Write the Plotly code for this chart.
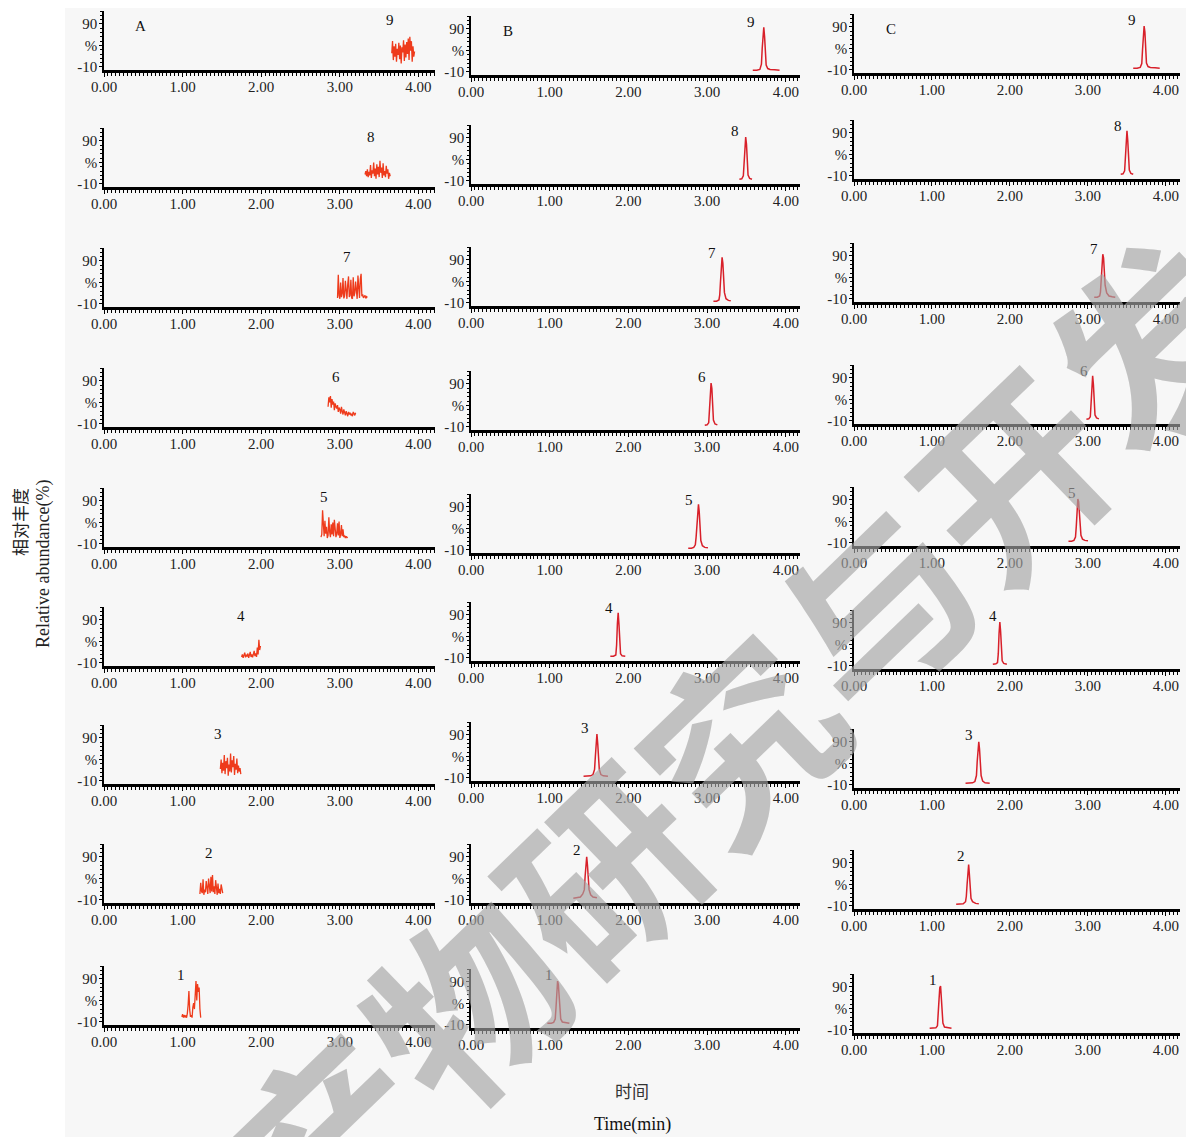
import plotly.graph_objects as go
from plotly.subplots import make_subplots

# ---------------- data ----------------
# Column A : blank / matrix (noisy traces)
A9_x = [3.66,3.67,3.68,3.69,3.70,3.71,3.72,3.73,3.74,3.75,3.76,3.77,3.78,3.79,3.80,3.81,3.82,3.83,3.84,3.85,3.86,3.87,3.88,3.89,3.90,3.91,3.92,3.93,3.94,3.95]
A9_y = [22,50,6,38,14,44,2,32,18,46,8,40,-2,36,24,52,4,42,12,48,20,56,6,60,28,50,2,38,14,26]
A8_x = [3.32,3.33,3.34,3.35,3.36,3.37,3.38,3.39,3.40,3.41,3.42,3.43,3.44,3.45,3.46,3.47,3.48,3.49,3.50,3.51,3.52,3.53,3.54,3.55,3.56,3.57,3.58,3.59,3.60,3.61,3.62,3.63,3.64]
A8_y = [12,20,8,24,6,18,10,34,4,22,14,40,8,26,2,36,12,30,6,44,16,28,4,38,10,20,6,32,14,24,2,16,8]
A7_x = [2.97,2.98,2.99,3.00,3.01,3.02,3.03,3.04,3.05,3.06,3.07,3.08,3.09,3.10,3.11,3.12,3.13,3.14,3.15,3.16,3.17,3.18,3.19,3.20,3.21,3.22,3.23,3.24,3.25,3.26,3.27,3.28,3.29,3.30,3.31,3.32,3.33,3.34,3.35]
A7_y = [4,58,10,2,40,6,14,50,3,8,44,12,2,36,54,6,10,46,4,2,52,8,16,42,6,2,56,10,4,48,60,8,12,4,6,10,3,7,5]
A6_x = [2.85,2.86,2.87,2.88,2.89,2.90,2.91,2.92,2.93,2.94,2.95,2.96,2.97,2.98,2.99,3.00,3.01,3.02,3.03,3.04,3.05,3.06,3.07,3.08,3.09,3.10,3.11,3.12,3.13,3.14,3.15,3.16,3.17,3.18,3.19,3.20]
A6_y = [30,52,40,55,28,48,35,42,22,38,30,26,34,18,28,24,14,30,20,12,24,16,10,20,14,8,18,12,16,10,14,8,18,12,10,16]
A5_x = [2.76,2.77,2.78,2.79,2.80,2.81,2.82,2.83,2.84,2.85,2.86,2.87,2.88,2.89,2.90,2.91,2.92,2.93,2.94,2.95,2.96,2.97,2.98,2.99,3.00,3.01,3.02,3.03,3.04,3.05,3.06,3.07,3.08,3.09,3.10]
A5_y = [6,12,68,20,8,44,14,30,4,10,52,18,6,36,12,40,8,46,22,6,14,38,10,42,4,12,34,8,24,6,10,4,8,5,6]
A4_x = [1.75,1.76,1.77,1.78,1.79,1.80,1.81,1.82,1.83,1.84,1.85,1.86,1.87,1.88,1.89,1.90,1.91,1.92,1.93,1.94,1.95,1.96,1.97,1.98,1.99]
A4_y = [4,10,2,8,14,3,9,5,12,2,7,16,4,10,3,8,18,6,12,4,26,10,44,20,30]
A3_x = [1.48,1.49,1.50,1.51,1.52,1.53,1.54,1.55,1.56,1.57,1.58,1.59,1.60,1.61,1.62,1.63,1.64,1.65,1.66,1.67,1.68,1.69,1.70,1.71,1.72,1.73,1.74]
A3_y = [18,40,8,32,14,50,6,36,20,44,2,28,12,54,10,38,22,48,4,30,16,42,8,26,12,20,6]
A2_x = [1.22,1.23,1.24,1.25,1.26,1.27,1.28,1.29,1.30,1.31,1.32,1.33,1.34,1.35,1.36,1.37,1.38,1.39,1.40,1.41,1.42,1.43,1.44,1.45,1.46,1.47,1.48,1.49,1.50,1.51]
A2_y = [4,30,10,6,38,2,14,8,34,12,4,40,16,6,44,10,48,8,22,4,36,12,2,28,6,16,4,26,8,6]
A1_x = [0.99,1.00,1.01,1.02,1.03,1.04,1.05,1.06,1.07,1.08,1.09,1.10,1.11,1.12,1.13,1.14,1.15,1.16,1.17,1.18,1.19,1.20,1.21,1.22,1.23]
A1_y = [2,8,0,6,2,4,0,10,30,62,18,2,6,0,24,34,20,72,85,40,78,60,70,20,0]

# Column B
B9_x = [3.58,3.63,3.67,3.69,3.70,3.71,3.72,3.73,3.74,3.75,3.77,3.80,3.86,3.92]
B9_y = [-6,-6,-4,8,45,82,94,72,30,6,-2,-4,-5,-6]
B8_x = [3.41,3.44,3.46,3.47,3.48,3.49,3.50,3.51,3.52,3.54,3.57]
B8_y = [-6,-5,2,28,72,92,76,30,4,-4,-6]
B7_x = [3.08,3.12,3.15,3.16,3.17,3.18,3.19,3.20,3.21,3.22,3.24,3.27,3.30]
B7_y = [-6,-6,-3,8,40,78,96,82,45,14,0,-4,-5]
B6_x = [2.97,3.00,3.02,3.03,3.04,3.05,3.06,3.07,3.08,3.10,3.13]
B6_y = [-6,-5,0,25,70,92,80,35,6,-3,-5]
B5_x = [2.76,2.80,2.83,2.85,2.86,2.87,2.88,2.89,2.90,2.91,2.92,2.94,2.97,3.01]
B5_y = [-6,-6,-4,2,20,55,85,96,78,40,12,0,-4,-5]
B4_x = [1.77,1.81,1.84,1.85,1.86,1.87,1.88,1.89,1.90,1.92,1.96]
B4_y = [-6,-6,-3,20,70,95,68,20,0,-5,-6]
B3_x = [1.43,1.48,1.52,1.55,1.57,1.58,1.59,1.60,1.61,1.62,1.63,1.65,1.68,1.74]
B3_y = [-6,-6,-5,-2,10,40,78,92,70,35,10,-2,-5,-6]
B2_x = [1.30,1.35,1.39,1.42,1.44,1.45,1.46,1.47,1.48,1.49,1.50,1.52,1.55,1.60]
B2_y = [-6,-5,-3,4,14,45,78,90,70,32,14,2,-3,-5]
B1_x = [0.97,1.02,1.05,1.07,1.08,1.09,1.10,1.11,1.12,1.13,1.14,1.16,1.20,1.25]
B1_y = [-6,-6,-4,4,30,68,92,84,52,20,4,-3,-5,-6]

# Column C
C9_x = [3.58,3.63,3.67,3.69,3.70,3.71,3.72,3.73,3.74,3.75,3.77,3.80,3.86,3.92]
C9_y = [-6,-6,-4,5,38,80,92,78,34,6,-2,-4,-5,-6]
C8_x = [3.42,3.45,3.47,3.48,3.49,3.50,3.51,3.52,3.53,3.55,3.58]
C8_y = [-6,-5,2,30,75,95,72,26,4,-4,-6]
C7_x = [3.08,3.12,3.15,3.16,3.17,3.18,3.19,3.20,3.21,3.22,3.24,3.27,3.31,3.35]
C7_y = [-6,-6,-3,6,35,72,94,85,55,22,4,-3,-5,-6]
C6_x = [2.98,3.01,3.03,3.04,3.05,3.06,3.07,3.08,3.09,3.11,3.14]
C6_y = [-6,-5,0,30,78,95,74,30,4,-3,-5]
C5_x = [2.75,2.79,2.82,2.84,2.85,2.86,2.87,2.88,2.89,2.90,2.91,2.93,2.96,3.00]
C5_y = [-6,-6,-4,4,28,64,92,86,55,24,8,-1,-4,-5]
C4_x = [1.78,1.82,1.84,1.85,1.86,1.87,1.88,1.89,1.90,1.92,1.96]
C4_y = [-6,-5,-2,18,66,92,70,24,2,-4,-6]
C3_x = [1.43,1.48,1.52,1.55,1.57,1.58,1.59,1.60,1.61,1.62,1.63,1.65,1.68,1.74]
C3_y = [-6,-6,-5,-2,12,45,80,90,72,38,12,-1,-5,-6]
C2_x = [1.31,1.36,1.40,1.43,1.44,1.45,1.46,1.47,1.48,1.49,1.50,1.52,1.56,1.60]
C2_y = [-6,-6,-5,0,12,40,74,86,62,28,8,0,-4,-5]
C1_x = [0.97,1.02,1.05,1.07,1.08,1.09,1.10,1.11,1.12,1.13,1.14,1.16,1.20,1.25]
C1_y = [-6,-6,-5,0,22,60,88,92,64,26,6,-3,-5,-6]

# peak-number label positions (x in min), compounds 1..9
A_label_x = [0.98,1.34,1.45,1.74,2.80,2.95,3.09,3.40,3.64]
B_label_x = [0.99,1.35,1.45,1.75,2.77,2.93,3.06,3.35,3.56]
C_label_x = [1.01,1.37,1.47,1.78,2.79,2.95,3.08,3.38,3.56]
label_y = [100, 105, 105]

panel_letters = ["A", "B", "C"]
x_tick_vals = [0, 1, 2, 3, 4]
x_tick_text = ["0.00", "1.00", "2.00", "3.00", "4.00"]
y_tick_vals = [-10, 40, 90]
y_tick_text = ["-10", "%", "90"]
ylabel_cn = "相对丰度"
ylabel_en = "Relative abundance(%)"
xlabel_cn = "时间"
xlabel_en = "Time(min)"
watermark = "天然产物研究与开发"

series = [
    [(A1_x, A1_y), (A2_x, A2_y), (A3_x, A3_y), (A4_x, A4_y), (A5_x, A5_y),
     (A6_x, A6_y), (A7_x, A7_y), (A8_x, A8_y), (A9_x, A9_y)],
    [(B1_x, B1_y), (B2_x, B2_y), (B3_x, B3_y), (B4_x, B4_y), (B5_x, B5_y),
     (B6_x, B6_y), (B7_x, B7_y), (B8_x, B8_y), (B9_x, B9_y)],
    [(C1_x, C1_y), (C2_x, C2_y), (C3_x, C3_y), (C4_x, C4_y), (C5_x, C5_y),
     (C6_x, C6_y), (C7_x, C7_y), (C8_x, C8_y), (C9_x, C9_y)],
]
label_xs = [A_label_x, B_label_x, C_label_x]

# ---------------- layout geometry ----------------
# the page body adds an 8px margin, so the figure is drawn 8px smaller and
# all target window-pixel positions are shifted by that offset
W, H = 1194, 1137
OFF = 8
FW, FH = W - OFF, H - OFF


def px(xp):
    return (xp - OFF) / FW


def py(yp):
    return 1 - (yp - OFF) / FH


col_px = [(104, 435, 4.21), (471, 800, 4.18), (854, 1180, 4.18)]
axis_px = [
    [70, 187, 307, 427, 547, 666, 784, 903, 1025],
    [75, 184, 306, 430, 553, 661, 781, 903, 1028],
    [73, 179, 302, 424, 546, 669, 788, 909, 1033],
]
panel_h = 59
line_colors = ["#ee3b1c", "#d8202a", "#d8202a"]
line_widths = [1.3, 1.5, 1.5]
SERIF = "Liberation Serif"

fig = make_subplots(rows=9, cols=3)
annotations = []

for c in range(3):
    x0, x1, xmax = col_px[c]
    for r in range(9):
        comp = 9 - r
        xs, ys = series[c][comp - 1]
        fig.add_trace(go.Scatter(x=xs, y=ys, mode="lines",
                                 line=dict(color=line_colors[c], width=line_widths[c]),
                                 hoverinfo="skip", showlegend=False),
                      row=r + 1, col=c + 1)
        idx = r * 3 + c + 1
        xa = "xaxis" if idx == 1 else f"xaxis{idx}"
        ya = "yaxis" if idx == 1 else f"yaxis{idx}"
        xref = "x" if idx == 1 else f"x{idx}"
        yref = "y" if idx == 1 else f"y{idx}"
        yb = axis_px[c][r]
        fig.layout[xa].update(
            domain=[px(x0), px(x1)], range=[0, xmax], automargin=False,
            showline=True, linecolor="black", linewidth=2.5,
            showgrid=False, zeroline=False,
            ticks="outside", ticklen=4, tickwidth=1, tickcolor="black",
            tickvals=x_tick_vals, ticktext=x_tick_text, ticklabelstandoff=-3,
            tickfont=dict(family=SERIF, size=15, color="#222"),
            minor=dict(dtick=0.05, ticks="outside", ticklen=3, tickwidth=1, tickcolor="black", showgrid=False),
            fixedrange=True,
        )
        fig.layout[ya].update(
            domain=[py(yb), py(yb - panel_h)], range=[-17, 120], automargin=False,
            showline=True, linecolor="black", linewidth=1.5,
            showgrid=False, zeroline=False,
            ticks="outside", ticklen=3, tickwidth=1, tickcolor="black",
            tickvals=y_tick_vals, ticktext=y_tick_text, ticklabelstandoff=-1,
            tickfont=dict(family=SERIF, size=15, color="#222"),
            minor=dict(dtick=10, ticks="outside", ticklen=2, tickwidth=1, tickcolor="black", showgrid=False),
            fixedrange=True,
        )
        annotations.append(dict(x=label_xs[c][comp - 1], y=label_y[c], xref=xref, yref=yref,
                                text=str(comp), showarrow=False,
                                font=dict(family=SERIF, size=15, color="#111")))
        if comp == 9:
            annotations.append(dict(x=0.47, y=85, xref=xref, yref=yref, text=panel_letters[c],
                                    showarrow=False, font=dict(family=SERIF, size=15, color="#111")))

# axis titles
annotations += [
    dict(x=px(19), y=py(522), xref="paper", yref="paper", text=ylabel_cn, textangle=-90,
         xanchor="center", yanchor="middle",
         showarrow=False, font=dict(family="Noto Sans CJK SC", size=17, color="#222")),
    dict(x=px(43), y=py(564), xref="paper", yref="paper", text=ylabel_en, textangle=-90,
         xanchor="center", yanchor="middle",
         showarrow=False, font=dict(family=SERIF, size=18, color="#222")),
    dict(x=px(632), y=py(1090), xref="paper", yref="paper", text=xlabel_cn,
         xanchor="center", yanchor="middle",
         showarrow=False, font=dict(family="Noto Sans CJK SC", size=17, color="#333")),
    dict(x=px(632), y=py(1124), xref="paper", yref="paper", text=xlabel_en,
         xanchor="center", yanchor="middle",
         showarrow=False, font=dict(family=SERIF, size=18, color="#111")),
    # watermark
    dict(x=px(598), y=py(866), xref="paper", yref="paper", text=watermark, textangle=-44,
         xanchor="center", yanchor="middle", showarrow=False,
         font=dict(family="Noto Sans CJK SC", size=190, color="rgba(165,165,165,0.65)", weight="bold")),
]

fig.update_layout(
    template="none",
    width=FW, height=FH,
    margin=dict(l=0, r=0, t=0, b=0, autoexpand=False),
    paper_bgcolor="white", plot_bgcolor="rgba(0,0,0,0)",
    showlegend=False,
    annotations=annotations,
    shapes=[dict(type="rect", xref="paper", yref="paper", x0=px(65), x1=1, y0=0, y1=1,
                 fillcolor="#f7f7f7", line=dict(width=0), layer="below")],
)

fig.write_html("out.html")
